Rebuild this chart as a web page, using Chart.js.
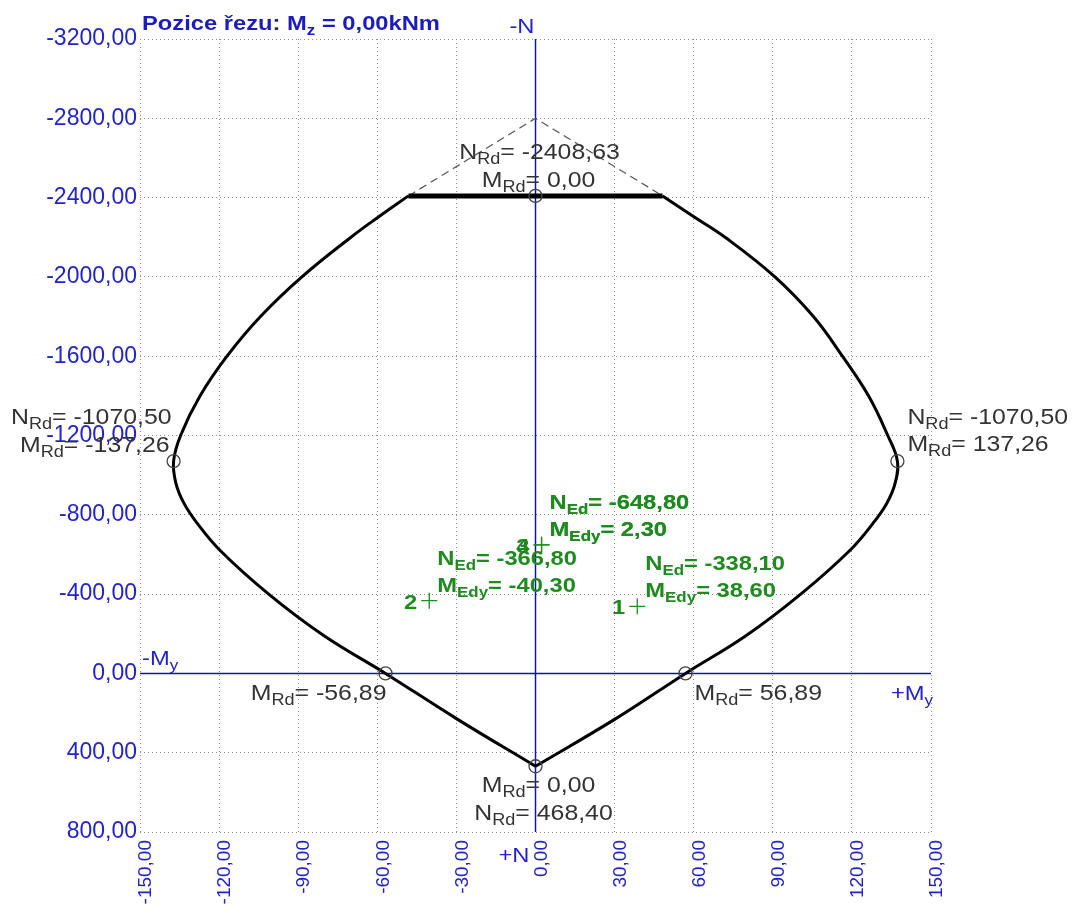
<!DOCTYPE html>
<html>
<head>
<meta charset="utf-8">
<script src="https://cdn.jsdelivr.net/npm/chart.js@4.4.1/dist/chart.umd.min.js"></script>
<style>
  html, body { margin: 0; padding: 0; background: #fff; }
  #wrap { width: 1074px; height: 917px; position: relative; }
</style>
</head>
<body>
<div id="wrap"><canvas id="chart"></canvas></div>
<script>
// N - My interaction diagram of the section (Mz = 0)

const xTicks = [-150, -120, -90, -60, -30, 0, 30, 60, 90, 120, 150];
const yTicks = [-3200, -2800, -2400, -2000, -1600, -1200, -800, -400, 0, 400, 800];

// left branch of the resistance curve, from the cap down to pure tension
const leftM = [-48.2, -59.8, -70, -88.6, -104.3, -117, -127.2, -134.6, -137.26,
               -136.4, -133.4, -128.3, -119.6, -101.2, -80.2, -56.89, -30, 0];
const leftN = [-2408.63, -2300, -2200, -2000, -1800, -1600, -1400, -1200, -1070.5,
               -960, -860, -757, -620, -400, -190, 0, 228, 468.4];

// right branch, from pure tension back up to the cap
const rightM = [0, 30, 56.89, 79.8, 100.6, 119.2, 128, 133.3, 136.4, 137.26,
                133.6, 126.3, 116.4, 105.4, 90.8, 71.9, 60.5, 48.2];
const rightN = [468.4, 232, 0, -190, -400, -620, -757, -860, -960, -1070.5,
                -1200, -1400, -1600, -1800, -2000, -2200, -2300, -2408.63];

// compression cap and the cut-off tip above it
const capM = [-48.2, 48.2];
const capN = [-2408.63, -2408.63];
const tipM = [-48.2, 0, 48.2];
const tipN = [-2408.63, -2800, -2408.63];

// characteristic points: top, left/right max moment, pure bending, pure tension
const keyM = [0, -137.26, 137.26, -56.89, 56.89, 0];
const keyN = [-2408.63, -1070.50, -1070.50, 0, 0, 468.40];

// design load cases
const caseNo = ['1', '2', '3', '4'];
const edM = [38.6, -40.3, 2.3, 2.3];
const edN = [-338.1, -366.8, -648.8, -648.8];

const pts = (ms, ns) => ms.map((m, i) => ({ x: m, y: ns[i] }));
const fmt = v => v.toFixed(2).replace('.', ',');

const FAM = '"Liberation Sans", Arial, sans-serif';
const SX = 1.13;
const BLUE = '#2323c8';
const TITLE = '#1c1cbc';
const GRAY = '#333333';
const GREEN = '#1f8a1f';

// text with _{sub} parts, slightly widened
function rich(ctx, str, x, y, align, size, bold, color) {
  const w8 = bold ? 'bold ' : '';
  const font = w8 + size + 'px ' + FAM;
  const subFont = w8 + Math.round(size * 0.72) + 'px ' + FAM;
  const parts = [];
  str.split(/(_\{[^}]*\})/).forEach(s => {
    if (!s) return;
    if (s.startsWith('_{')) parts.push({ t: s.slice(2, -1), sub: true });
    else parts.push({ t: s, sub: false });
  });
  ctx.save();
  ctx.fillStyle = color;
  ctx.textAlign = 'left';
  ctx.textBaseline = 'alphabetic';
  let total = 0;
  parts.forEach(p => {
    ctx.font = p.sub ? subFont : font;
    p.w = ctx.measureText(p.t).width * SX;
    total += p.w;
  });
  let cx = align === 'right' ? x - total : align === 'center' ? x - total / 2 : x;
  parts.forEach(p => {
    ctx.font = p.sub ? subFont : font;
    ctx.save();
    ctx.translate(cx, y + (p.sub ? Math.round(size * 0.22) : 0));
    ctx.scale(SX, 1);
    ctx.fillText(p.t, 0, 0);
    ctx.restore();
    cx += p.w;
  });
  ctx.restore();
}

const labels = {
  id: 'labels',
  afterDatasetsDraw(chart) {
    const ctx = chart.ctx;
    const xs = chart.scales.x, ys = chart.scales.y;
    const area = chart.chartArea;
    const px = v => xs.getPixelForValue(v);
    const py = v => ys.getPixelForValue(v);

    // title and axis names
    rich(ctx, 'Pozice řezu: M_{z} = 0,00kNm', area.left + 2, 30, 'left', 21, true, TITLE);
    rich(ctx, '-N', px(0) - 1, area.top - 6, 'right', 21, false, BLUE);
    rich(ctx, '+N', px(0) - 6, area.bottom + 30, 'right', 21, false, BLUE);
    rich(ctx, '-M_{y}', area.left + 2, py(0) - 8, 'left', 21, false, BLUE);
    rich(ctx, '+M_{y}', area.right + 2, py(0) + 27, 'right', 21, false, BLUE);

    // resistance values
    let ax = px(keyM[0]), ay = py(keyN[0]);
    rich(ctx, 'N_{Rd}= ' + fmt(keyN[0]), ax + 4, ay - 37, 'center', 22, false, GRAY);
    rich(ctx, 'M_{Rd}= ' + fmt(keyM[0]), ax + 3, ay - 9, 'center', 22, false, GRAY);

    ax = px(keyM[1]); ay = py(keyN[1]);
    rich(ctx, 'N_{Rd}= ' + fmt(keyN[1]), ax - 2, ay - 37, 'right', 22, false, GRAY);
    rich(ctx, 'M_{Rd}= ' + fmt(keyM[1]), ax - 4, ay - 9, 'right', 22, false, GRAY);

    ax = px(keyM[2]); ay = py(keyN[2]);
    rich(ctx, 'N_{Rd}= ' + fmt(keyN[2]), ax + 10, ay - 37, 'left', 22, false, GRAY);
    rich(ctx, 'M_{Rd}= ' + fmt(keyM[2]), ax + 10, ay - 10, 'left', 22, false, GRAY);

    ax = px(keyM[3]); ay = py(keyN[3]);
    rich(ctx, 'M_{Rd}= ' + fmt(keyM[3]), ax + 1, ay + 27, 'right', 22, false, GRAY);

    ax = px(keyM[4]); ay = py(keyN[4]);
    rich(ctx, 'M_{Rd}= ' + fmt(keyM[4]), ax + 9, ay + 27, 'left', 22, false, GRAY);

    ax = px(keyM[5]); ay = py(keyN[5]);
    rich(ctx, 'M_{Rd}= ' + fmt(keyM[5]), ax + 3, ay + 26, 'center', 22, false, GRAY);
    rich(ctx, 'N_{Rd}= ' + fmt(keyN[5]), ax + 8, ay + 54, 'center', 22, false, GRAY);

    // load cases
    caseNo.forEach((c, i) => {
      const lx = px(edM[i]), ly = py(edN[i]);
      rich(ctx, c, lx - 12, ly + 8, 'right', 21, true, GREEN);
      rich(ctx, 'N_{Ed}= ' + fmt(edN[i]), lx + 8, ly - 36, 'left', 21, true, GREEN);
      rich(ctx, 'M_{Edy}= ' + fmt(edM[i]), lx + 8, ly - 9, 'left', 21, true, GREEN);
    });
  }
};

const lineSet = (data, color, width, extra) => Object.assign({
  data, showLine: true, borderColor: color, borderWidth: width,
  pointRadius: 0, fill: false, tension: 0
}, extra);

new Chart(document.getElementById('chart'), {
  type: 'scatter',
  data: {
    datasets: [
      { data: pts(edM, edN), pointStyle: 'cross', pointRadius: 8, borderColor: GREEN,
        borderWidth: 1.3, order: 1 },
      { data: pts(keyM, keyN), pointStyle: 'circle', pointRadius: 6.5,
        borderColor: '#444', backgroundColor: 'rgba(0,0,0,0)', borderWidth: 1.3, order: 2 },
      lineSet(pts(leftM, leftN), '#000', 3, { tension: 0.4, order: 3 }),
      lineSet(pts(rightM, rightN), '#000', 3, { tension: 0.4, order: 3 }),
      lineSet(pts(capM, capN), '#000', 5, { order: 3 }),
      lineSet(pts(tipM, tipN), '#555', 1.2, { borderDash: [8, 5], order: 4 }),
      // zero axes
      lineSet(pts([xTicks[0], xTicks[xTicks.length - 1]], [0, 0]), '#15159a', 1.5, { order: 9 }),
      lineSet(pts([0, 0], [yTicks[0], yTicks[yTicks.length - 1]]), '#15159a', 1.5, { order: 9 })
    ]
  },
  options: {
    responsive: true,
    maintainAspectRatio: false,
    animation: false,
    events: [],
    layout: { padding: { top: 39, right: 143, left: 0, bottom: 0 } },
    plugins: { legend: { display: false }, tooltip: { enabled: false } },
    scales: {
      x: {
        type: 'linear',
        min: xTicks[0], max: xTicks[xTicks.length - 1],
        afterBuildTicks: s => { s.ticks = xTicks.map(v => ({ value: v })); },
        afterFit: s => { s.height = 85; },
        grid: { color: '#8c8c8c', lineWidth: 1, drawTicks: false },
        border: { display: false, dash: [1, 3] },
        ticks: {
          minRotation: 90, maxRotation: 90, autoSkip: false, padding: 8, labelOffset: 6,
          color: BLUE, font: { family: FAM, size: 19 },
          callback: v => fmt(v)
        }
      },
      y: {
        type: 'linear',
        reverse: true,
        min: yTicks[0], max: yTicks[yTicks.length - 1],
        afterBuildTicks: s => { s.ticks = yTicks.map(v => ({ value: v })); },
        afterFit: s => { s.width = 140; },
        grid: { color: '#8c8c8c', lineWidth: 1, drawTicks: false },
        border: { display: false, dash: [1, 3] },
        ticks: {
          autoSkip: false, padding: 3,
          color: BLUE, font: { family: FAM, size: 23 },
          callback: v => fmt(v)
        }
      }
    }
  },
  plugins: [labels]
});
</script>
</body>
</html>
